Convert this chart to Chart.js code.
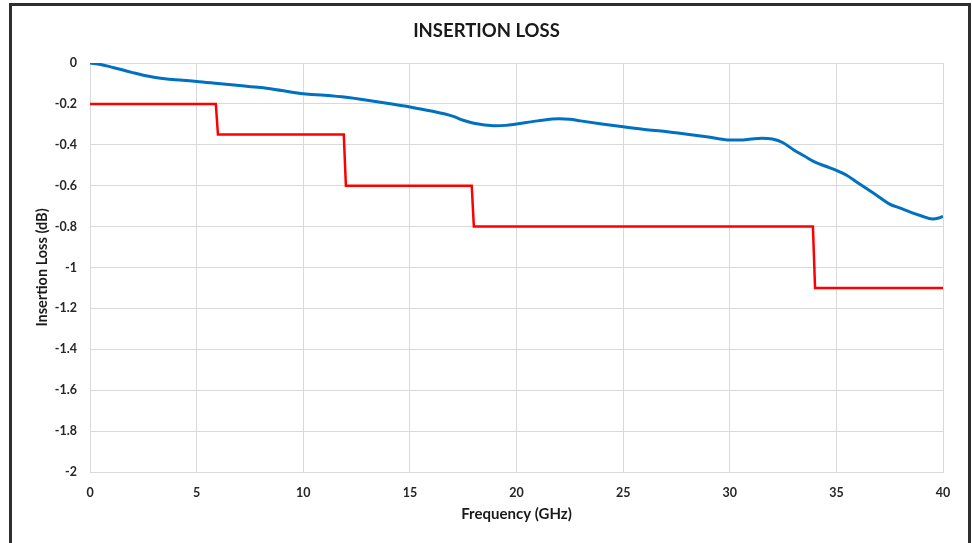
<!DOCTYPE html>
<html>
<head>
<meta charset="utf-8">
<script src="https://cdn.jsdelivr.net/npm/chart.js@4"></script>
<style>
html,body{margin:0;padding:0;background:#fff;}
#wrap{position:relative;width:972px;height:543px;overflow:hidden;}
#frame{position:absolute;left:9px;top:3px;width:956px;height:560px;border:3px solid #2e2e2e;border-bottom:none;pointer-events:none;}
canvas{position:absolute;left:0;top:0;}
</style>
</head>
<body>
<div id="wrap"><canvas id="c" width="972" height="543"></canvas><div id="frame"></div></div>
<script>
const chartTitle = "INSERTION LOSS";
const xAxisTitle = "Frequency (GHz)";
const yAxisTitle = "Insertion Loss (dB)";
const xTickLabels = ["0","5","10","15","20","25","30","35","40"];
const yTickLabels = ["0","-0.2","-0.4","-0.6","-0.8","-1","-1.2","-1.4","-1.6","-1.8","-2"];

const measuredFreq = [0,0.5,1,1.5,2,2.5,3,3.5,4,5,6,7,8,9,10,11,12,13,14,15,16,17,17.5,18,18.5,19,19.5,20,21,22,22.5,23,24,25,26,27,28,29,30,30.5,31,31.5,32,32.5,33,33.5,34,34.5,35,35.5,36,36.5,37,37.5,38,38.5,39,39.5,39.8,40];
const measuredLoss = [0,-0.007,-0.02,-0.033,-0.047,-0.06,-0.07,-0.077,-0.082,-0.09,-0.1,-0.11,-0.12,-0.135,-0.15,-0.158,-0.168,-0.182,-0.198,-0.215,-0.235,-0.26,-0.28,-0.295,-0.303,-0.307,-0.305,-0.298,-0.283,-0.273,-0.275,-0.283,-0.298,-0.312,-0.325,-0.335,-0.348,-0.362,-0.377,-0.377,-0.372,-0.368,-0.372,-0.39,-0.425,-0.455,-0.485,-0.505,-0.525,-0.55,-0.585,-0.62,-0.655,-0.69,-0.71,-0.73,-0.748,-0.763,-0.758,-0.75];

const specFreq = [0,5.9,6,11.9,12,17.9,18,33.9,34,40];
const specLoss = [-0.2,-0.2,-0.35,-0.35,-0.6,-0.6,-0.8,-0.8,-1.1,-1.1];

const toPts = (xs, ys) => xs.map((x,i)=>({x:x, y:ys[i]}));
const FONT = "Lato, 'Open Sans', 'Liberation Sans', sans-serif";
const yTickValues = yTickLabels.map(Number);
const xTickValues = xTickLabels.map(Number);

new Chart(document.getElementById('c'), {
  type: 'line',
  data: {
    datasets: [
      {label:'Measured', data: toPts(measuredFreq, measuredLoss), borderColor:'#0070C0', borderWidth:3, pointRadius:0, tension:0.4, cubicInterpolationMode:'monotone', fill:false},
      {label:'Spec', data: toPts(specFreq, specLoss), borderColor:'#FF0000', borderWidth:2.5, pointRadius:0, tension:0, fill:false}
    ]
  },
  options: {
    responsive:false, animation:false, devicePixelRatio:1,
    layout:{padding:{left:30, right:29, top:0, bottom:16}},
    plugins:{
      legend:{display:false}, tooltip:{enabled:false},
      title:{display:true, text:chartTitle, color:'#1a1a1a', font:{family:FONT, size:18.5, weight:'bold'}, padding:{top:20, bottom:20.8}}
    },
    scales:{
      x:{type:'linear', min:0, max:40,
        afterBuildTicks:(s)=>{s.ticks = xTickValues.map(v=>({value:v}));},
        afterFit:(s)=>{s.height = 55;},
        grid:{color:'#d9d9d9', lineWidth:1, drawTicks:false},
        border:{color:'#d9d9d9'},
        ticks:{padding:13, color:'#262626', font:{family:FONT, size:12.5, weight:'bold'}, maxRotation:0,
          callback:(v)=>xTickLabels[xTickValues.indexOf(v)] ?? ''},
        title:{display:true, text:xAxisTitle, color:'#1a1a1a', font:{family:FONT, size:15, weight:'bold'}, padding:{top:4,bottom:4}}
      },
      y:{type:'linear', min:-2, max:0,
        afterBuildTicks:(s)=>{s.ticks = yTickValues.map(v=>({value:v}));},
        afterFit:(s)=>{s.width = 60;},
        grid:{color:'#d9d9d9', lineWidth:1, drawTicks:false},
        border:{color:'#d9d9d9'},
        ticks:{padding:13, color:'#262626', font:{family:FONT, size:12.5, weight:'bold'},
          callback:(v)=>{const i = yTickValues.findIndex(t=>Math.abs(t-v)<1e-9); return i>=0 ? yTickLabels[i] : '';}},
        title:{display:true, text:yAxisTitle, color:'#1a1a1a', font:{family:FONT, size:14.5, weight:'bold'}, padding:{top:4,bottom:4}}
      }
    }
  }
});
</script>
</body>
</html>
